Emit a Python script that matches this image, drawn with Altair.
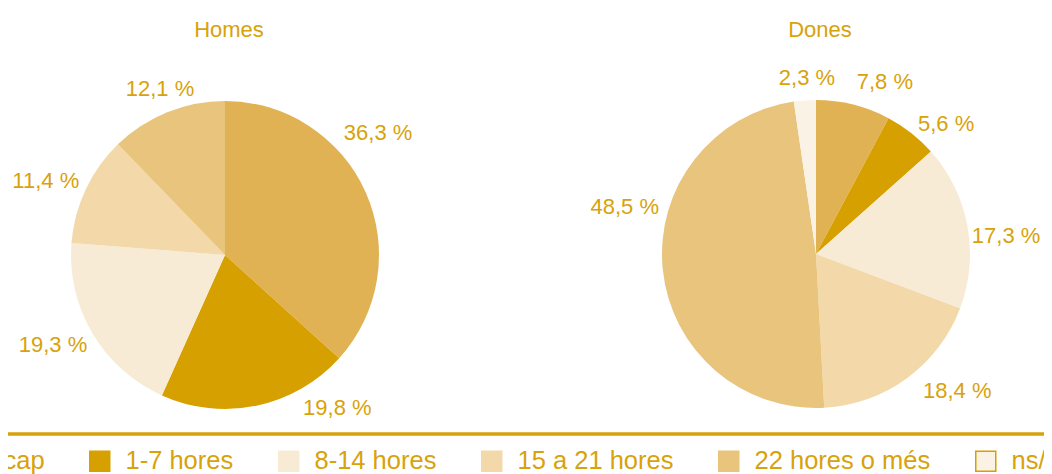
import altair as alt
import pandas as pd

# ---------------- data ----------------
SEXES = ["Homes", "Dones"]
CATEGORIES = ["cap", "1-7 hores", "8-14 hores", "15 a 21 hores", "22 hores o més", "ns/nc"]
HOMES = [36.3, 19.8, 19.3, 11.4, 12.1, None]
DONES = [7.8, 5.6, 17.3, 18.4, 48.5, 2.3]

# ---------------- style ----------------
FONT = "Liberation Sans"
GOLD = "#D8A20A"
COLORS = ["#E1B254", "#D6A100", "#F8EBD5", "#F3D9AA", "#E8C47C", "#FBF2E6"]
STROKES = ["#E1B254", "#D6A100", "#F8EBD5", "#F3D9AA", "#E8C47C", "#D6A100"]
# hand placement of the percentage labels in the original:
# angular nudge from the slice middle (degrees) and radial nudge (px)
LABEL_NUDGE_DEG = {
    ("Homes", "cap"): -14.7, ("Homes", "1-7 hores"): -24.4, ("Homes", "8-14 hores"): 3.1,
    ("Homes", "15 a 21 hores"): -2.7, ("Homes", "22 hores o més"): 0.6,
    ("Dones", "cap"): 7.8, ("Dones", "1-7 hores"): 6.8, ("Dones", "8-14 hores"): 5.0,
    ("Dones", "15 a 21 hores"): -9.6, ("Dones", "22 hores o més"): 19.5, ("Dones", "ns/nc"): 1.2,
}
LABEL_R_NUDGE = {
    ("Homes", "cap"): 4, ("Homes", "1-7 hores"): -2, ("Homes", "8-14 hores"): 2,
    ("Homes", "15 a 21 hores"): 2, ("Homes", "22 hores o més"): -14,
    ("Dones", "cap"): -7, ("Dones", "1-7 hores"): -8, ("Dones", "8-14 hores"): -1,
    ("Dones", "15 a 21 hores"): 5, ("Dones", "22 hores o més"): 5, ("Dones", "ns/nc"): -16,
}
W, H = 1036, 466
PIE_R = 154
LABEL_R = 192
CENTERS = {"Homes": (217, 247), "Dones": (808, 246)}

rows = []
for sexe, vals in zip(SEXES, [HOMES, DONES]):
    for i, (cat, v) in enumerate(zip(CATEGORIES, vals)):
        if v is None:
            continue
        rows.append({
            "sexe": sexe, "cat": cat, "idx": i, "value": v,
            "label": f"{v:.1f}".replace(".", ",") + " %",
            "nudge": LABEL_NUDGE_DEG.get((sexe, cat), 0),
            "lr": LABEL_R + LABEL_R_NUDGE.get((sexe, cat), 0),
        })
df = pd.DataFrame(rows)
df_titles = pd.DataFrame({"sexe": SEXES})

fill_scale = alt.Scale(domain=CATEGORIES, range=COLORS)
stroke_scale = alt.Scale(domain=CATEGORIES, range=STROKES)
theta_scale = alt.Scale(domain=[0, 1])
radius_scale = alt.Scale(type="linear", domain=[0, 300], range=[0, 300])

legend = alt.Legend(
    title=None, orient="none", legendX=-43, legendY=440, direction="horizontal",
    symbolType="square", symbolSize=400, symbolStrokeWidth=1.5,
    labelFont=FONT, labelFontSize=25.5, labelColor=GOLD, labelOffset=13,
    labelLimit=400, columnPadding=41, padding=0,
)


def pie(sexe):
    cx, cy = CENTERS[sexe]
    base = (
        alt.Chart(df)
        .transform_filter(alt.datum.sexe == sexe)
        .transform_joinaggregate(total="sum(value)")
        .transform_window(cum="sum(value)", sort=[alt.SortField("idx")])
        .transform_calculate(
            frac="datum.value / datum.total",
            mid="(datum.cum - datum.value / 2) / datum.total + datum.nudge / 360",
        )
    )
    arcs = base.mark_arc(radius=PIE_R, strokeWidth=0).encode(
        theta=alt.Theta("frac:Q", stack=True, scale=theta_scale),
        fill=alt.Fill("cat:N", scale=fill_scale, legend=legend),
        stroke=alt.Stroke("cat:N", scale=stroke_scale, legend=legend),
        order=alt.Order("idx:Q"),
        x=alt.value(cx),
        y=alt.value(cy),
    )
    labels = base.mark_text(
        font=FONT, fontSize=22, color=GOLD, align="center", baseline="middle"
    ).encode(
        theta=alt.Theta("mid:Q", scale=theta_scale),
        radius=alt.Radius("lr:Q", scale=radius_scale),
        text="label:N",
        x=alt.value(cx),
        y=alt.value(cy),
    )
    title = (
        alt.Chart(df_titles)
        .transform_filter(alt.datum.sexe == sexe)
        .mark_text(font=FONT, fontSize=22, color=GOLD, align="center", baseline="middle")
        .encode(text="sexe:N", x=alt.value(cx + 4), y=alt.value(22))
    )
    return [arcs, labels, title]


rule = alt.Chart(df_titles).mark_rule(color=GOLD, strokeWidth=3).encode(
    x=alt.value(0), x2=alt.value(W), y=alt.value(426)
)

chart = (
    alt.layer(*pie("Homes"), *pie("Dones"), rule)
    .properties(width=W, height=H, padding=0, autosize=alt.AutoSizeParams(type="none"))
    .configure_view(strokeWidth=0)
)

chart.save("out.html", embed_options={"renderer": "svg", "actions": False})
